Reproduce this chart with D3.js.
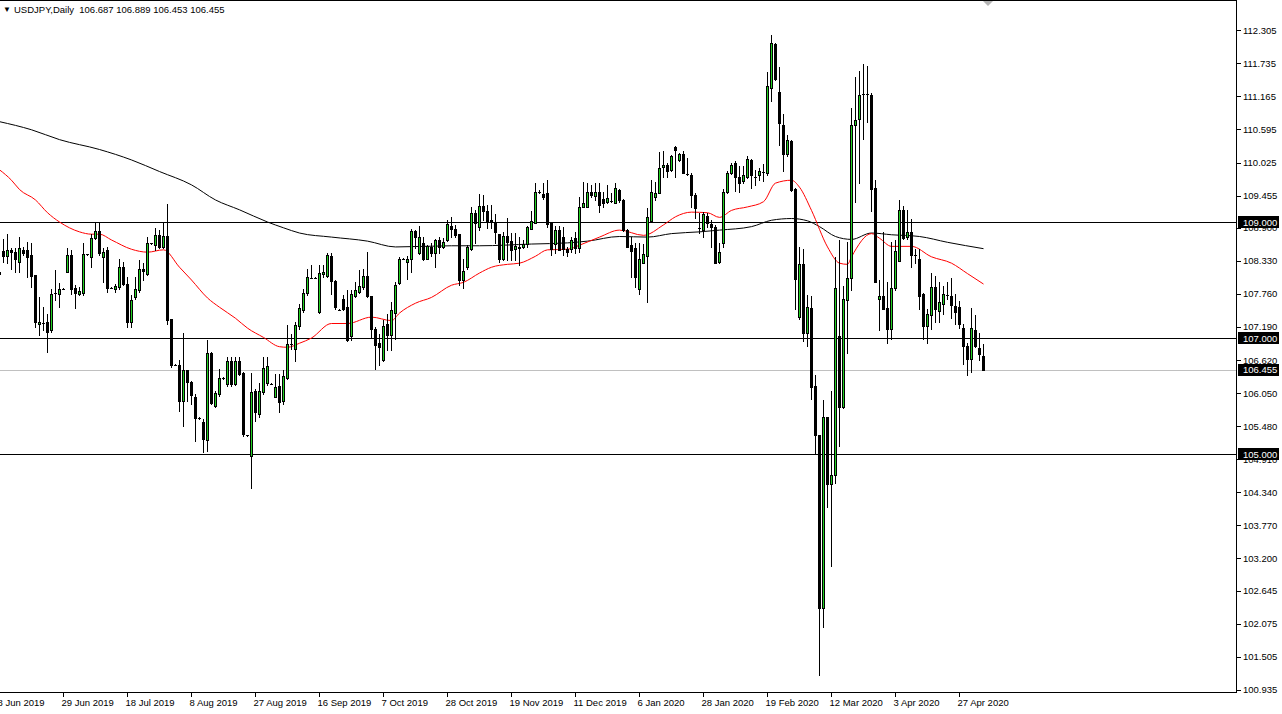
<!DOCTYPE html>
<html>
<head>
<meta charset="utf-8">
<script src="https://cdn.jsdelivr.net/npm/d3@7/dist/d3.min.js"></script>
<style>
  html, body { margin: 0; padding: 0; background: #ffffff; overflow: hidden; }
  svg { display: block; }
  text { font-family: "Liberation Sans", Arial, sans-serif; }
</style>
</head>
<body>
<svg id="chart" width="1282" height="714"></svg>
<script>
// ---------------- DATA ----------------
const symbolTitle = "USDJPY,Daily";
const lastQuote = ["106.687", "106.889", "106.453", "106.455"];

const opens = [108.14,108.50,108.42,108.52,108.49,108.314,108.516,108.516,108.43,108.08,
107.24,107.264,107.276,107.143,107.77,107.766,107.85,108.14,108.43,107.87,
107.766,107.777,108.44,108.39,108.717,108.844,108.40,108.516,107.87,107.852,
107.88,108.216,107.939,107.276,107.708,107.824,108.198,108.112,108.63,108.60,
108.775,108.573,108.764,107.322,106.537,106.543,105.909,106.44,106.238,105.99,
105.62,105.546,105.24,106.74,105.834,106.036,106.313,106.21,106.612,106.21,
106.595,106.40,105.326,104.969,106.093,105.69,106.065,106.22,106.21,105.99,
106.18,105.909,106.313,106.89,106.814,107.20,107.477,107.777,108.043,108.043,
107.449,108.10,108.066,108.41,107.99,107.49,107.68,107.535,107.028,107.725,
107.795,107.88,108.066,107.72,107.16,106.912,106.624,107.235,107.045,107.43,
107.94,108.37,108.314,108.37,108.844,108.458,108.63,108.37,108.573,108.458,
108.689,108.573,108.689,108.93,108.873,108.792,108.008,108.216,108.527,109.15,
108.92,109.277,109.196,109.035,109.006,108.792,108.354,108.758,108.677,108.527,
108.544,108.573,108.62,108.885,108.988,109.51,109.484,109.507,108.977,108.62,
108.862,108.735,108.527,108.527,108.717,108.544,109.265,109.265,109.513,109.456,
109.525,109.392,109.352,109.37,109.334,109.554,109.38,108.862,108.60,108.544,
107.852,108.296,108.412,109.023,109.438,109.507,109.946,109.986,109.888,110.292,
110.061,110.176,109.83,109.813,109.467,108.89,108.862,109.104,108.965,108.908,
108.314,108.63,109.525,109.842,110.015,109.784,109.715,109.784,110.073,109.784,
109.813,109.86,109.848,111.312,112.072,111.239,110.674,110.167,110.39,109.572,
107.355,108.268,107.094,107.514,106.167,105.319,102.348,105.63,104.486,104.63,
107.036,105.804,107.659,108.036,110.681,110.775,111.203,111.203,111.188,109.587,
107.674,107.732,107.514,107.152,107.855,108.326,109.21,108.746,108.819,108.428,
108.362,107.761,107.203,107.399,107.877,107.471,107.587,107.746,107.725,107.558,
107.529,107.181,106.862,106.645,107.13,106.819,106.687];

const highs = [108.20,108.70,108.80,108.544,108.544,108.746,108.573,108.66,108.63,108.08,
107.708,107.535,107.42,107.852,108.17,107.94,107.86,108.544,108.516,107.91,
107.88,108.63,108.45,108.80,108.977,108.977,108.544,108.573,107.88,107.939,
108.37,108.314,108.054,107.737,108.054,108.343,108.285,108.746,108.64,108.89,
108.86,108.977,109.31,107.333,106.547,106.624,107.085,106.44,106.266,106.036,
105.63,105.603,106.96,106.757,106.093,106.468,106.32,106.68,106.67,106.67,
106.67,106.41,105.336,106.393,106.122,106.22,106.67,106.67,106.22,106.382,
106.382,106.44,107.22,107.074,107.276,107.593,107.852,108.198,108.256,108.05,
108.256,108.256,108.458,108.458,108.0,107.50,107.737,107.824,107.824,107.968,
108.17,108.198,108.487,107.725,107.19,107.074,107.304,107.42,107.622,107.968,
108.40,108.38,108.41,108.873,108.862,108.93,108.735,108.60,108.642,108.70,
108.735,108.717,109.035,109.092,108.948,108.792,108.37,108.60,109.265,109.208,
109.484,109.467,109.294,109.294,109.138,108.80,108.833,109.063,108.815,108.815,
108.735,108.689,108.93,109.196,109.669,109.554,109.669,109.727,109.006,108.93,
108.93,108.908,108.573,108.735,108.833,109.438,109.698,109.669,109.64,109.669,
109.669,109.525,109.64,109.507,109.669,109.565,109.392,108.873,108.735,108.63,
108.63,108.62,109.236,109.727,109.698,110.20,110.217,110.015,110.159,110.315,
110.188,110.217,110.10,109.842,109.496,109.15,109.179,109.15,109.035,108.948,
108.63,109.565,109.871,110.015,110.044,109.957,109.957,110.142,110.084,109.90,
109.928,110.0,111.587,112.225,112.094,111.674,110.862,110.50,110.413,109.594,
108.572,108.543,107.746,107.732,106.355,105.319,105.935,105.645,106.094,108.40,
108.688,107.891,108.652,110.97,111.50,111.60,111.717,111.696,111.225,109.717,
108.0,108.833,107.964,108.652,108.688,109.377,109.283,109.21,109.05,108.543,
108.543,107.783,107.507,108.123,108.072,107.964,107.891,107.964,108.036,107.761,
107.638,107.239,106.913,107.514,107.392,107.094,106.889];

const lows = [108.05,108.31,108.285,108.198,108.14,108.14,108.43,108.054,107.88,107.19,
107.045,107.13,106.757,107.103,107.65,107.535,107.84,108.14,107.766,107.524,
107.737,107.737,108.43,108.227,108.70,108.43,107.968,107.795,107.86,107.795,
107.852,107.91,107.19,107.19,107.68,107.795,107.997,108.08,108.62,108.516,
108.544,108.544,107.247,106.50,106.527,105.747,105.488,105.92,105.863,105.228,
105.61,105.027,105.044,105.863,105.817,106.007,106.30,106.18,106.18,106.197,
106.37,105.315,105.316,104.41,105.574,105.632,106.036,106.197,106.20,105.978,
105.72,105.863,106.295,106.814,106.612,107.16,107.449,107.737,108.03,108.035,
107.437,108.054,108.054,107.766,107.506,107.48,107.49,106.947,106.96,107.708,
107.777,107.852,107.708,107.016,106.468,106.526,106.612,106.785,106.785,106.987,
107.927,108.36,108.025,108.14,108.56,108.446,108.343,108.354,108.41,108.227,
108.458,108.544,108.677,108.735,108.735,107.91,107.87,108.198,108.516,108.63,
108.862,109.035,108.89,108.89,108.63,108.314,108.343,108.343,108.343,108.343,
108.256,108.56,108.573,108.873,108.977,109.496,109.392,108.92,108.43,108.458,
108.516,108.43,108.41,108.487,108.458,108.487,109.254,109.254,109.438,109.38,
109.179,109.265,109.323,109.352,109.323,109.352,108.85,108.573,108.054,107.881,
107.766,108.285,107.622,109.006,109.38,109.496,109.784,109.784,109.871,109.784,
110.044,109.842,109.813,109.265,109.063,108.804,108.746,108.92,108.573,108.285,
108.296,108.573,109.507,109.83,109.542,109.525,109.669,109.755,109.582,109.64,
109.727,109.7,109.812,111.08,111.442,110.32,109.884,110.138,109.543,107.493,
107.326,106.949,106.862,105.949,104.993,101.19,102.022,104.087,103.072,104.50,
105.138,105.79,106.746,107.819,109.34,109.667,110.428,110.717,109.196,107.964,
107.13,107.493,106.913,106.986,107.819,108.326,108.703,108.703,108.217,108.29,
107.493,106.986,106.913,107.152,107.275,107.275,107.42,107.674,107.348,107.239,
107.181,106.551,106.37,106.406,106.841,106.623,106.453];

const closes = [108.10,108.41,108.52,108.49,108.37,108.544,108.47,108.40,108.066,107.276,
107.27,107.264,107.103,107.766,107.77,107.852,107.85,108.43,107.852,107.777,
107.806,108.44,108.44,108.717,108.844,108.458,108.48,107.87,107.87,107.893,
108.216,107.939,107.276,107.662,107.852,108.198,108.158,108.63,108.63,108.775,
108.573,108.764,107.316,106.526,106.537,105.909,106.44,106.238,106.024,105.62,
105.62,105.257,106.74,105.874,106.053,106.313,106.313,106.612,106.21,106.595,
106.382,105.344,105.326,106.076,105.72,106.093,106.486,106.51,106.21,106.163,
105.89,106.353,106.89,106.89,107.218,107.524,107.783,108.054,108.043,108.043,
108.123,108.14,108.43,107.985,107.535,107.49,107.506,106.96,107.754,107.824,
107.893,108.066,107.72,107.16,106.872,106.843,107.20,107.045,107.478,107.91,
108.37,108.37,108.37,108.844,108.735,108.735,108.354,108.585,108.47,108.689,
108.573,108.66,108.965,108.873,108.775,108.008,108.158,108.573,109.15,108.988,
109.277,109.196,109.023,109.006,108.833,108.354,108.758,108.66,108.516,108.585,
108.573,108.62,108.908,109.017,109.513,109.51,109.438,108.965,108.527,108.862,
108.516,108.527,108.487,108.689,108.544,109.254,109.323,109.525,109.467,109.513,
109.294,109.323,109.41,109.37,109.582,109.38,108.862,108.573,108.504,108.054,
108.354,108.446,109.092,109.525,109.507,109.928,109.986,109.871,110.142,110.246,
110.176,109.853,109.83,109.467,109.236,108.89,109.138,108.988,108.92,108.296,
108.487,109.525,109.842,109.986,109.784,109.669,109.813,110.084,109.813,109.784,
109.871,109.86,111.348,112.094,111.457,110.703,110.174,110.413,109.558,108.022,
108.283,107.094,107.529,106.152,105.319,102.348,105.63,104.486,104.63,107.855,
105.804,107.674,108.036,110.674,110.754,111.188,111.203,111.203,109.572,107.964,
107.732,107.493,107.152,107.855,108.493,109.21,108.725,108.819,108.435,108.428,
107.732,107.203,107.406,107.877,107.493,107.623,107.761,107.746,107.565,107.442,
107.239,106.862,106.645,107.167,106.862,106.717,106.455];

// moving averages (bar index, value)
const maRedIdx = [0,3,5,9,12,15,20,23,25,28,33,37,41,45,48,52,55,59,62,66,70,72,75,78,83,87,93,98,100,104,108,113,116,120,123,127,130,134,137,142,145,150,155,161,166,169,173,177,180,183,187,191,194,198,200,203,207,210,212,213,218,220,223,228,233,238,242,246];
const maRedVal = [109.90,109.72,109.56,109.38,109.16,109.0,108.83,108.79,108.79,108.69,108.53,108.48,108.52,108.22,108.0,107.69,107.53,107.34,107.17,107.01,106.85,106.84,106.91,107.0,107.25,107.25,107.36,107.3,107.43,107.6,107.7,107.91,107.96,108.12,108.22,108.27,108.29,108.41,108.52,108.53,108.6,108.74,108.86,108.77,108.95,109.09,109.17,109.16,109.08,109.2,109.26,109.35,109.67,109.72,109.6,109.2,108.57,108.29,108.27,108.40,108.80,108.72,108.58,108.58,108.40,108.29,108.11,107.93];
const maBlackIdx = [0,8,15,25,33,40,48,54,60,67,71,75,83,92,99,113,120,133,142,147,155,162,168,175,180,188,193,198,202,205,209,213,218,223,230,237,246];
const maBlackVal = [110.73,110.59,110.42,110.25,110.07,109.87,109.64,109.38,109.21,109.0,108.9,108.81,108.74,108.67,108.57,108.59,108.59,108.62,108.64,108.67,108.75,108.74,108.80,108.83,108.86,108.92,109.03,109.06,109.02,108.92,108.75,108.70,108.81,108.78,108.75,108.65,108.54];

// date axis labels (bar index of each tick)
const dateTickIdx = [0,16,32,48,64,80,96,112,128,144,160,176,192,208,224,240];
const dateLabels = ["8 Jun 2019","29 Jun 2019","18 Jul 2019","8 Aug 2019","27 Aug 2019","16 Sep 2019","7 Oct 2019","28 Oct 2019","19 Nov 2019","11 Dec 2019","6 Jan 2020","28 Jan 2020","19 Feb 2020","12 Mar 2020","3 Apr 2020","27 Apr 2020"];

// price axis ticks
const priceTicks = [112.305,111.735,111.165,110.595,110.025,109.455,108.900,108.330,107.760,107.190,106.620,106.050,105.480,104.910,104.340,103.770,103.200,102.645,102.075,101.505,100.935];
const priceTickLabels = ["112.305","111.735","111.165","110.595","110.025","109.455","108.900","108.330","107.760","107.190","106.620","106.050","105.480","104.910","104.340","103.770","103.200","102.645","102.075","101.505","100.935"];

// horizontal levels
const levelLines = [109.000, 107.000, 105.000];
const levelLabels = ["109.000", "107.000", "105.000"];
const bidPrice = 106.455;
const bidLabel = "106.455";

// ---------------- DRAW ----------------
const W = 1282, H = 714;
const plotRight = 1237, plotBottom = 692;
const svg = d3.select("#chart");

const x = d3.scaleLinear().domain([0, 246]).range([-0.5, 983.5]);
const y = d3.scaleLinear().domain([105, 109]).range([454, 222]);
const py = v => Math.round(y(v)) + 0.5;

svg.append("rect").attr("width", W).attr("height", H).attr("fill", "#ffffff");

svg.append("defs").append("clipPath").attr("id", "plotclip")
  .append("rect").attr("x", 0).attr("y", 1).attr("width", plotRight - 0.5).attr("height", plotBottom - 1);

const plot = svg.append("g").attr("clip-path", "url(#plotclip)");

// bid line (grey)
plot.append("line")
  .attr("x1", 0).attr("x2", plotRight).attr("y1", py(bidPrice)).attr("y2", py(bidPrice))
  .attr("stroke", "#c0c0c0").attr("stroke-width", 1);

// level lines
plot.selectAll("line.level").data(levelLines).enter().append("line")
  .attr("class", "level")
  .attr("x1", 0).attr("x2", plotRight)
  .attr("y1", d => py(d)).attr("y2", d => py(d))
  .attr("stroke", "#000000").attr("stroke-width", 1);

// moving averages
const maLine = d3.line().x(d => x(d[0])).y(d => y(d[1])).curve(d3.curveMonotoneX);
plot.append("path")
  .attr("d", maLine(d3.zip(maBlackIdx, maBlackVal)))
  .attr("fill", "none").attr("stroke", "#000000").attr("stroke-width", 1);
plot.append("path")
  .attr("d", maLine(d3.zip(maRedIdx, maRedVal)))
  .attr("fill", "none").attr("stroke", "#ff0000").attr("stroke-width", 1);

// candles
const candles = d3.range(opens.length).map(i => ({i, o: opens[i], h: highs[i], l: lows[i], c: closes[i]}));
const cg = plot.append("g");
const g = cg.selectAll("g.candle").data(candles).enter().append("g").attr("class", "candle");
g.append("line")
  .attr("x1", d => x(d.i)).attr("x2", d => x(d.i))
  .attr("y1", d => Math.round(y(d.h))).attr("y2", d => Math.round(y(d.l)) + 1)
  .attr("stroke", "#000000").attr("stroke-width", 1);
g.filter(d => Math.abs(d.o - d.c) < 0.004).append("line")
  .attr("x1", d => x(d.i) - 1.5).attr("x2", d => x(d.i) + 1.5)
  .attr("y1", d => py(d.c)).attr("y2", d => py(d.c))
  .attr("stroke", "#000000").attr("stroke-width", 1);
g.filter(d => Math.abs(d.o - d.c) >= 0.004).append("rect")
  .attr("x", d => x(d.i) - 1)
  .attr("width", 2)
  .attr("y", d => py(Math.max(d.o, d.c)))
  .attr("height", d => Math.max(0, py(Math.min(d.o, d.c)) - py(Math.max(d.o, d.c))))
  .attr("fill", d => d.c > d.o ? "#22d022" : "#000000")
  .attr("stroke", "#000000").attr("stroke-width", 1);

// frame
svg.append("line").attr("x1", 0).attr("x2", plotRight).attr("y1", 0.5).attr("y2", 0.5).attr("stroke", "#000");
svg.append("line").attr("x1", plotRight - 0.5).attr("x2", plotRight - 0.5).attr("y1", 0).attr("y2", plotBottom + 0.5).attr("stroke", "#000");
svg.append("line").attr("x1", 0).attr("x2", plotRight).attr("y1", plotBottom + 0.5).attr("y2", plotBottom + 0.5).attr("stroke", "#000");

// chart shift marker
svg.append("path").attr("d", "M983,1 L993,1 L988,6 Z").attr("fill", "#b4b4b4");

// price axis
const pAxis = svg.append("g");
pAxis.selectAll("line").data(priceTicks).enter().append("line")
  .attr("x1", plotRight).attr("x2", plotRight + 4)
  .attr("y1", d => py(d)).attr("y2", d => py(d))
  .attr("stroke", "#000");
pAxis.selectAll("text").data(priceTicks).enter().append("text")
  .attr("x", plotRight + 6).attr("y", d => y(d) + 3.5)
  .attr("font-size", "9.5px").attr("fill", "#000")
  .text((d, k) => priceTickLabels[k]);

// level labels (black boxes)
const boxes = levelLines.map((v, k) => ({v, t: levelLabels[k]})).concat([{v: bidPrice, t: bidLabel}]);
const bg = svg.selectAll("g.box").data(boxes).enter().append("g").attr("class", "box");
bg.append("rect")
  .attr("x", plotRight + 1).attr("y", d => Math.round(y(d.v)) - 6)
  .attr("width", 41).attr("height", 12).attr("fill", "#000");
bg.append("text")
  .attr("x", plotRight + 6).attr("y", d => y(d.v) + 3.5)
  .attr("font-size", "9.5px").attr("fill", "#fff")
  .text(d => d.t);

// date axis
const dAxis = svg.append("g");
dAxis.selectAll("line").data(dateTickIdx).enter().append("line")
  .attr("x1", d => x(d)).attr("x2", d => x(d))
  .attr("y1", plotBottom).attr("y2", plotBottom + 5)
  .attr("stroke", "#000");
dAxis.selectAll("text").data(dateTickIdx).enter().append("text")
  .attr("x", d => x(d) - 2).attr("y", 706)
  .attr("font-size", "9.5px").attr("fill", "#000")
  .text((d, k) => dateLabels[k]);

// title
svg.append("text").attr("x", 3).attr("y", 12).attr("font-size", "8px").text("\u25BC");
svg.append("text").attr("x", 14).attr("y", 13).attr("font-size", "9.5px")
  .attr("xml:space", "preserve")
  .text(symbolTitle + "  " + lastQuote.join(" "));
</script>
</body>
</html>
